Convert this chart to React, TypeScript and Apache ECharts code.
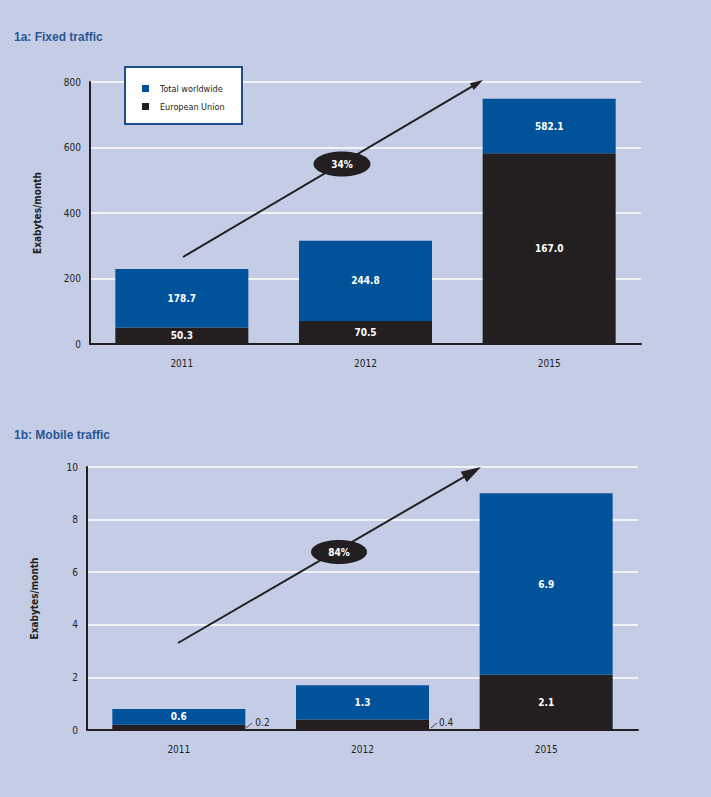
import React, { useEffect, useRef } from "react";
import * as echarts from "echarts";

const categories = ["2011", "2012", "2015"];

// Fixed traffic (Exabytes/month) – segment heights as drawn
const fixedEU = [50.3, 70.5, 582.1];
const fixedRest = [178.7, 244.8, 167.0];
// Labels as printed on the segments
const fixedEULabels = ["50.3", "70.5", "167.0"];
const fixedRestLabels = ["178.7", "244.8", "582.1"];

// Mobile traffic
const mobileEU = [0.2, 0.4, 2.1];
const mobileRest = [0.6, 1.3, 6.9];
const mobileEULabels = ["0.2", "0.4", "2.1"];
const mobileRestLabels = ["0.6", "1.3", "6.9"];

const fixedTicks = { min: 0, max: 800, interval: 200 };
const mobileTicks = { min: 0, max: 10, interval: 2 };

const BLUE = "#00529b";
const DARK = "#231f20";
const BG = "#c5cde6";
const TITLE = "#2a5696";
const NARROW = "'Liberation Sans Narrow', 'DejaVu Sans Condensed', 'Arial Narrow', sans-serif";

function arrow(x1: number, y1: number, x2: number, y2: number, headLen: number, headW: number) {
  const dx = x2 - x1;
  const dy = y2 - y1;
  const len = Math.sqrt(dx * dx + dy * dy);
  const ux = dx / len;
  const uy = dy / len;
  const bx = x2 - ux * headLen;
  const by = y2 - uy * headLen;
  const px = -uy;
  const py = ux;
  return [
    {
      type: "line",
      shape: { x1, y1, x2: bx + ux * 2, y2: by + uy * 2 },
      style: { stroke: DARK, lineWidth: 2 },
      z: 20,
    },
    {
      type: "polygon",
      shape: {
        points: [
          [x2, y2],
          [bx + (px * headW) / 2, by + (py * headW) / 2],
          [bx - (px * headW) / 2, by - (py * headW) / 2],
        ],
      },
      style: { fill: DARK },
      z: 20,
    },
  ];
}

function badge(cx: number, cy: number, rx: number, ry: number, text: string) {
  return [
    {
      type: "ellipse",
      shape: { cx, cy, rx, ry },
      style: { fill: DARK },
      z: 21,
    },
    {
      type: "text",
      x: cx,
      y: cy,
      style: {
        text,
        fill: "#ffffff",
        font: `bold 10px ${NARROW}`,
        align: "center",
        verticalAlign: "middle",
      },
      z: 22,
    },
  ];
}

export default function App() {
  const ref = useRef<HTMLDivElement>(null);

  useEffect(() => {
    if (!ref.current) return;
    const chart = echarts.init(ref.current, undefined, { renderer: "svg" });

    const valueLabel = (labels: string[]) => ({
      show: true,
      position: "inside",
      color: "#ffffff",
      fontWeight: "bold",
      fontSize: 10,
      fontFamily: NARROW,
      formatter: (p: any) => labels[p.dataIndex],
    });

    const yAxisCommon = {
      type: "value",
      name: "Exabytes/month",
      nameLocation: "middle",
      nameRotate: 90,
      nameGap: 48,
      nameTextStyle: { color: DARK, fontSize: 10, fontWeight: "bold", fontFamily: NARROW },
      axisLine: { show: true, lineStyle: { color: DARK, width: 2 } },
      axisTick: { show: false },
      axisLabel: { color: DARK, fontSize: 10, fontFamily: NARROW, margin: 9 },
      splitLine: { show: true, lineStyle: { color: "#ffffff", width: 1.5 } },
    };

    const xAxisCommon = {
      type: "category",
      data: categories,
      axisLine: { show: true, lineStyle: { color: DARK, width: 2 } },
      axisTick: { show: false },
      axisLabel: { color: DARK, fontSize: 10, fontFamily: NARROW, margin: 14 },
    };

    const outsideOffsets = [
      [5, -5],
      [5, -2.5],
    ];

    const mobileEUData = mobileEU.map((v, i) =>
      i < 2
        ? {
            value: v,
            label: {
              show: true,
              position: "right",
              offset: outsideOffsets[i],
              color: DARK,
              fontWeight: "normal",
              fontSize: 10,
              fontFamily: NARROW,
              formatter: () => mobileEULabels[i],
            },
          }
        : v
    );

    const option: any = {
      animation: false,
      backgroundColor: BG,
      title: [
        {
          text: "1a: Fixed traffic",
          left: 14,
          top: 31,
          padding: 0,
          textStyle: { color: TITLE, fontSize: 12, fontWeight: "bold", fontFamily: "'Liberation Sans', Arial, sans-serif" },
        },
        {
          text: "1b: Mobile traffic",
          left: 14,
          top: 429,
          padding: 0,
          textStyle: { color: TITLE, fontSize: 12, fontWeight: "bold", fontFamily: "'Liberation Sans', Arial, sans-serif" },
        },
      ],
      legend: {
        left: 142,
        top: 84,
        orient: "vertical",
        itemWidth: 7,
        itemHeight: 7,
        itemGap: 9,
        padding: 0,
        icon: "rect",
        data: ["Total worldwide", "European Union"],
        textStyle: { color: DARK, fontSize: 9, fontFamily: NARROW, padding: [0, 0, 0, 6] },
        z: 30,
      },
      grid: [
        { left: 90, top: 82, width: 551, height: 262 },
        { left: 87, top: 467, width: 551, height: 263 },
      ],
      xAxis: [
        { ...xAxisCommon, gridIndex: 0 },
        { ...xAxisCommon, gridIndex: 1 },
      ],
      yAxis: [
        { ...yAxisCommon, gridIndex: 0, ...fixedTicks },
        { ...yAxisCommon, gridIndex: 1, ...mobileTicks },
      ],
      series: [
        {
          name: "European Union",
          type: "bar",
          stack: "fixed",
          xAxisIndex: 0,
          yAxisIndex: 0,
          barWidth: 133,
          itemStyle: { color: DARK },
          label: valueLabel(fixedEULabels),
          data: fixedEU,
        },
        {
          name: "Total worldwide",
          type: "bar",
          stack: "fixed",
          xAxisIndex: 0,
          yAxisIndex: 0,
          barWidth: 133,
          itemStyle: { color: BLUE },
          label: valueLabel(fixedRestLabels),
          data: fixedRest,
        },
        {
          name: "European Union",
          type: "bar",
          stack: "mobile",
          xAxisIndex: 1,
          yAxisIndex: 1,
          barWidth: 133,
          itemStyle: { color: DARK },
          label: valueLabel(mobileEULabels),
          data: mobileEUData,
        },
        {
          name: "Total worldwide",
          type: "bar",
          stack: "mobile",
          xAxisIndex: 1,
          yAxisIndex: 1,
          barWidth: 133,
          itemStyle: { color: BLUE },
          label: valueLabel(mobileRestLabels),
          data: mobileRest,
        },
      ],
      graphic: [
        {
          type: "rect",
          shape: { x: 125, y: 67, width: 117, height: 57 },
          style: { fill: "#ffffff", stroke: "#1f4e8c", lineWidth: 2 },
          z: 5,
        },
        ...arrow(183, 257, 483, 80, 13, 8),
        ...badge(342, 164, 28.5, 12.5, "34%"),
        ...arrow(178, 643, 481, 467, 20, 12),
        ...badge(339, 552, 28, 12, "84%"),
        {
          type: "line",
          shape: { x1: 246, y1: 728, x2: 252, y2: 723 },
          style: { stroke: DARK, lineWidth: 0.8 },
          z: 20,
        },
        {
          type: "line",
          shape: { x1: 431, y1: 728, x2: 437, y2: 723 },
          style: { stroke: DARK, lineWidth: 0.8 },
          z: 20,
        },
      ],
    };

    chart.setOption(option);
    return () => chart.dispose();
  }, []);

  return (
    <div
      ref={ref}
      style={{ position: "fixed", left: 0, top: 0, width: 711, height: 797 }}
    />
  );
}
